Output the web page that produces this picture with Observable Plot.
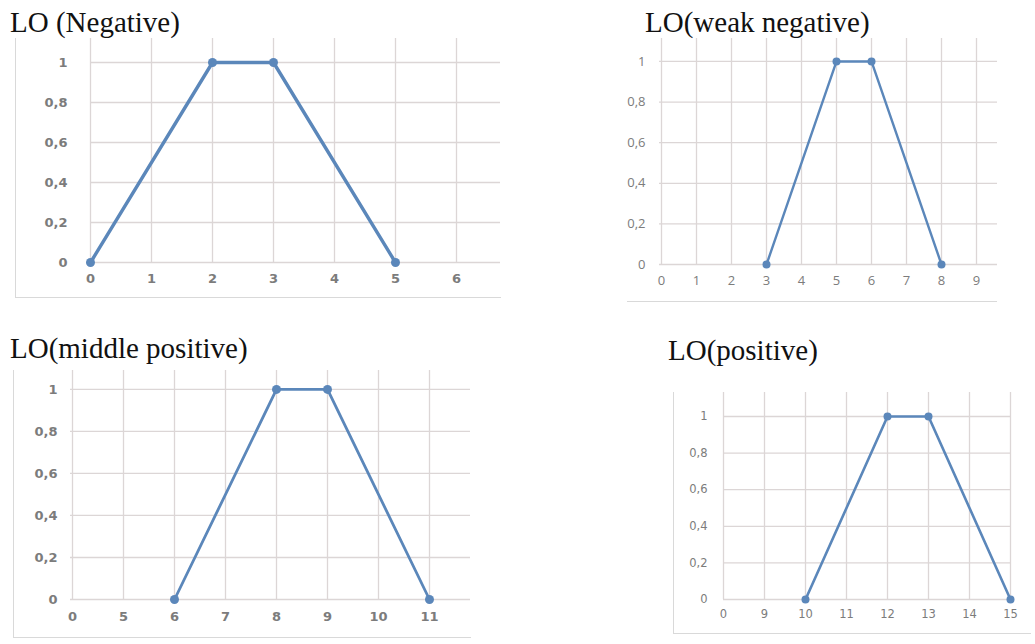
<!DOCTYPE html>
<html>
<head>
<meta charset="utf-8">
<script src="https://cdn.jsdelivr.net/npm/d3@7"></script>
<script src="https://cdn.jsdelivr.net/npm/@observablehq/plot@0.6"></script>
<style>
  html, body { margin: 0; padding: 0; background: #fff; }
  #root { position: relative; width: 1035px; height: 644px; overflow: hidden; background: #fff; }
  .panel { position: absolute; }
  .title { position: absolute; font-family: "Liberation Serif", "Times New Roman", serif; font-size: 29px; line-height: 1; color: #111; white-space: nowrap; }
  .frame { position: absolute; border-left: 1px solid #d9d9d9; border-bottom: 1px solid #d9d9d9; }
</style>
</head>
<body>
<div id="root"></div>
<script>
// ---- data ----
const titles = ["LO (Negative)", "LO(weak negative)", "LO(middle positive)", "LO(positive)"];

const xTicks1 = ["0", "1", "2", "3", "4", "5", "6"];
const xTicks2 = ["0", "1", "2", "3", "4", "5", "6", "7", "8", "9"];
const xTicks3 = ["0", "5", "6", "7", "8", "9", "10", "11"];
const xTicks4 = ["0", "9", "10", "11", "12", "13", "14", "15"];

const xVals1 = ["0", "2", "3", "5"];
const xVals2 = ["3", "5", "6", "8"];
const xVals3 = ["6", "8", "9", "11"];
const xVals4 = ["10", "12", "13", "15"];

const membership = [0, 1, 1, 0];
const yTicks = [0, 0.2, 0.4, 0.6, 0.8, 1];

// ---- layout / style ----
const lineColor = "#5b87ba";
const gridColor = "#dcd6d6";
const labelColor = "#7c7c7c";
const fmt = d => String(d).replace(".", ",");

const panels = [
  {title: titles[0], titleLeft: 10, titleTop: 8, ticks: xTicks1, xs: xVals1,
   left: 0, top: 0, width: 520, height: 310,
   mL: 90, mR: 20, mT: 38, mB: 48, xRange: [90, 456], yMax: 1.12,
   yPad: 23, xPad: 11, font: "DejaVu Sans", fs: 13, fw: 600, sw: 3.4, r: 4.5,
   frame: {left: 15, top: 38, width: 485, height: 259}},
  {title: titles[1], titleLeft: 645, titleTop: 8, ticks: xTicks2, xs: xVals2,
   left: 580, top: 0, width: 455, height: 310,
   mL: 79, mR: 38, mT: 38, mB: 46, xRange: [79, 397], yMax: 1.113,
   yPad: 14, xPad: 11, font: "Open Sans", fs: 13, fw: 400, sw: 2.4, r: 4,
   frame: {left: 627, top: 301, width: 370, height: 0}},
  {title: titles[2], titleLeft: 10, titleTop: 334, ticks: xTicks3, xs: xVals3,
   left: 0, top: 320, width: 520, height: 324,
   mL: 70, mR: 50, mT: 50, mB: 45, xRange: [70, 430], yMax: 1.09,
   yPad: 13, xPad: 12, font: "DejaVu Sans", fs: 13, fw: 600, sw: 2.8, r: 4.5,
   frame: {left: 13, top: 370, width: 457, height: 267}},
  {title: titles[3], titleLeft: 668, titleTop: 336, ticks: xTicks4, xs: xVals4,
   left: 640, top: 320, width: 395, height: 324,
   mL: 83, mR: 25, mT: 72, mB: 45, xRange: [83, 370], yMax: 1.131,
   yPad: 16, xPad: 10, font: "DejaVu Sans", fs: 11.5, fw: 400, sw: 2.6, r: 4,
   frame: {left: 673, top: 392, width: 357, height: 241}}
];

const root = document.getElementById("root");

for (const p of panels) {
  const fr = document.createElement("div");
  fr.className = "frame";
  fr.style.left = p.frame.left + "px";
  fr.style.top = p.frame.top + "px";
  fr.style.width = p.frame.width + "px";
  fr.style.height = p.frame.height + "px";
  if (p.frame.height === 0) fr.style.borderLeft = "none";
  root.appendChild(fr);

  const data = p.xs.map((x, i) => ({x, y: membership[i]}));
  const chart = Plot.plot({
    width: p.width,
    height: p.height,
    marginLeft: p.mL,
    marginRight: p.mR,
    marginTop: p.mT,
    marginBottom: p.mB,
    style: {fontFamily: p.font, fontSize: p.fs + "px", color: labelColor, background: "transparent", overflow: "visible"},
    x: {type: "point", domain: p.ticks, range: p.xRange, padding: 0},
    y: {domain: [0, p.yMax]},
    marks: [
      Plot.ruleY(yTicks, {y: d => d, stroke: gridColor, strokeWidth: 1.3}),
      Plot.ruleX(p.ticks, {x: d => d, stroke: gridColor, strokeWidth: 1.3}),
      Plot.axisY(yTicks, {tickSize: 0, tickPadding: p.yPad, tickFormat: fmt, fill: labelColor, label: null, fontSize: p.fs, fontWeight: p.fw}),
      Plot.axisX(p.ticks, {tickSize: 0, tickPadding: p.xPad, fill: labelColor, label: null, fontSize: p.fs, fontWeight: p.fw}),
      Plot.line(data, {x: "x", y: "y", stroke: lineColor, strokeWidth: p.sw}),
      Plot.dot(data, {x: "x", y: "y", fill: lineColor, r: p.r})
    ]
  });
  chart.classList.add("panel");
  chart.style.left = p.left + "px";
  chart.style.top = p.top + "px";
  root.appendChild(chart);

  const t = document.createElement("div");
  t.className = "title";
  t.textContent = p.title;
  t.style.left = p.titleLeft + "px";
  t.style.top = p.titleTop + "px";
  root.appendChild(t);
}
</script>
</body>
</html>
